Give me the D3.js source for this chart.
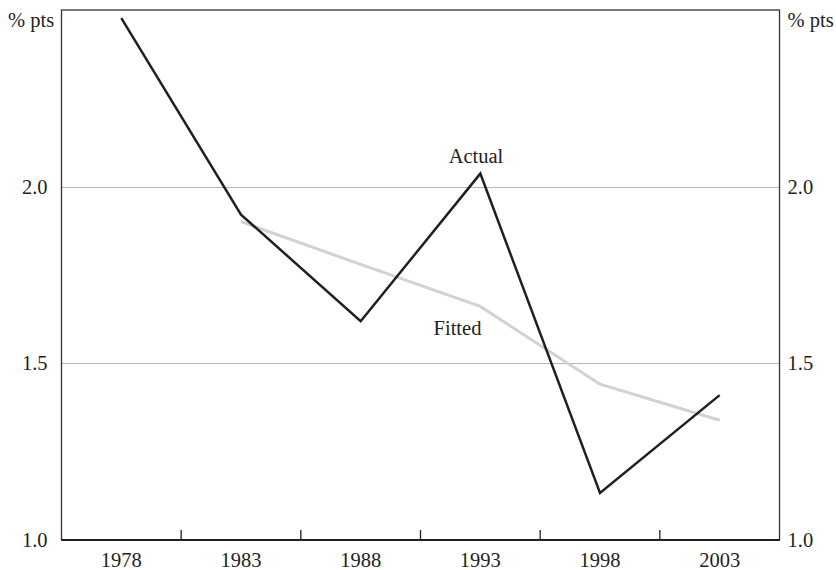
<!DOCTYPE html>
<html>
<head>
<meta charset="utf-8">
<script src="https://cdn.jsdelivr.net/npm/d3@7"></script>
<style>
  html, body { margin: 0; padding: 0; background: #fff; }
  svg text { font-family: "Liberation Serif", "Times New Roman", serif; fill: #231f20; font-size: 20.5px; }
</style>
</head>
<body>
<svg id="chart" width="836" height="570"></svg>
<script>
const years = ["1978", "1983", "1988", "1993", "1998", "2003"];
const actual = [2.477, 1.921, 1.619, 2.037, 1.133, 1.410];
const fitted = [null, 1.901, 1.780, 1.661, 1.441, 1.339];
const yTicks = [1.0, 1.5, 2.0];
const unitLabel = "% pts";

const svg = d3.select("#chart");
const m = { left: 61.5, right: 779.5, top: 10, bottom: 540 };

const x = d3.scaleBand().domain(years).range([m.left, m.right]);
const y = d3.scaleLinear().domain([1.0, 2.5]).range([m.bottom, m.top]);

// grid lines
svg.append("g").selectAll("line")
  .data(yTicks.filter(d => d > 1.0))
  .join("line")
  .attr("x1", m.left).attr("x2", m.right)
  .attr("y1", d => Math.round(y(d)) + 0.5).attr("y2", d => Math.round(y(d)) + 0.5)
  .attr("stroke", "#b5b5b5").attr("stroke-width", 1);

// frame
svg.append("rect")
  .attr("x", m.left).attr("y", m.top)
  .attr("width", m.right - m.left).attr("height", m.bottom - m.top)
  .attr("fill", "none").attr("stroke", "#333").attr("stroke-width", 1.3);

// bottom axis
const xAxis = d3.axisBottom(x).tickSize(0).tickPadding(12);
const gx = svg.append("g").attr("transform", `translate(0,${m.bottom})`).call(xAxis);
gx.select(".domain").remove();
svg.append("line").attr("x1", m.left).attr("x2", m.right)
  .attr("y1", m.bottom).attr("y2", m.bottom)
  .attr("stroke", "#231f20").attr("stroke-width", 2.2);
// band boundary ticks (inside)
svg.append("g").selectAll("line")
  .data(years.slice(1))
  .join("line")
  .attr("x1", d => x(d)).attr("x2", d => x(d))
  .attr("y1", m.bottom).attr("y2", m.bottom - 10)
  .attr("stroke", "#231f20").attr("stroke-width", 1.3);

// y axes
const yl = d3.axisLeft(y).tickValues(yTicks).tickFormat(d3.format(".1f")).tickSize(0).tickPadding(14);
const gyl = svg.append("g").attr("transform", `translate(${m.left},0)`).call(yl);
gyl.select(".domain").remove();
const yr = d3.axisRight(y).tickValues(yTicks).tickFormat(d3.format(".1f")).tickSize(0).tickPadding(8);
const gyr = svg.append("g").attr("transform", `translate(${m.right},0)`).call(yr);
gyr.select(".domain").remove();
svg.selectAll("g.tick text").attr("font-size", null).attr("fill", null);
svg.selectAll("g").attr("font-size", null).attr("font-family", null);

// unit labels
svg.append("text").attr("x", 8).attr("y", 27).attr("text-anchor", "start").text(unitLabel);
svg.append("text").attr("x", m.right + 8).attr("y", 27).attr("text-anchor", "start").text(unitLabel);

const cx = d => x(d) + x.bandwidth() / 2;

// fitted line
const fittedData = years.map((yr, i) => ({ yr, v: fitted[i] })).filter(d => d.v != null);
svg.append("path")
  .datum(fittedData)
  .attr("fill", "none").attr("stroke", "#d2d2d2").attr("stroke-width", 3)
  .attr("d", d3.line().x(d => cx(d.yr)).y(d => y(d.v)));

// actual line
const actualData = years.map((yr, i) => ({ yr, v: actual[i] }));
svg.append("path")
  .datum(actualData)
  .attr("fill", "none").attr("stroke", "#231f20").attr("stroke-width", 2.5)
  .attr("stroke-linejoin", "miter")
  .attr("d", d3.line().x(d => cx(d.yr)).y(d => y(d.v)));

// series labels
svg.append("text").attr("x", 476).attr("y", 163).attr("text-anchor", "middle").text("Actual");
svg.append("text").attr("x", 457.5).attr("y", 335).attr("text-anchor", "middle").text("Fitted");
</script>
</body>
</html>
